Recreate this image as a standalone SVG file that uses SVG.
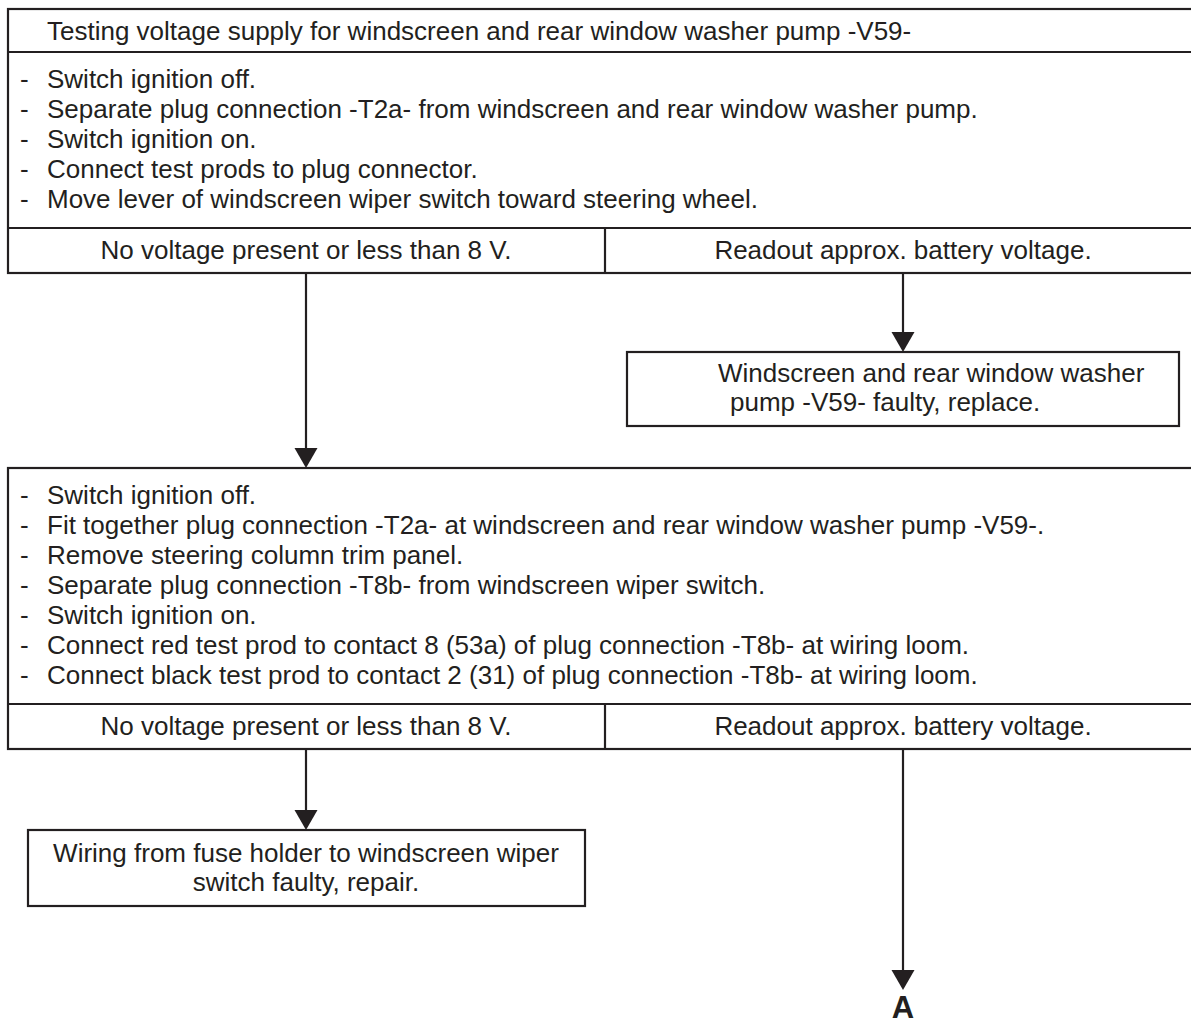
<svg xmlns="http://www.w3.org/2000/svg" width="1191" height="1027" viewBox="0 0 1191 1027">
<style>
.box{fill:#fff;stroke:#231f20;stroke-width:2.2}
.ln{stroke:#231f20;stroke-width:2.2;fill:none}
.ah{fill:#231f20}
.t{font-family:"Liberation Sans",Arial,Helvetica,sans-serif;font-size:26px;fill:#231f20}
.c{text-anchor:middle}
.a{font-family:"Liberation Sans",Arial,Helvetica,sans-serif;font-size:31px;font-weight:bold;fill:#231f20;text-anchor:middle}
</style>
<rect width="1191" height="1027" fill="#fff"/>
<g id="connectors">
<line class="ln" x1="306" y1="273" x2="306" y2="450"/>
<polygon class="ah" points="294.5,448 317.5,448 306,468"/>
<line class="ln" x1="903" y1="273" x2="903" y2="334"/>
<polygon class="ah" points="891.5,332 914.5,332 903,352"/>
<line class="ln" x1="306" y1="749" x2="306" y2="812"/>
<polygon class="ah" points="294.5,810 317.5,810 306,830"/>
<line class="ln" x1="903" y1="749" x2="903" y2="972"/>
<polygon class="ah" points="891.5,970 914.5,970 903,990"/>
</g>
<g id="box1">
<rect class="box" x="8" y="9" width="1200" height="264"/>
<line class="ln" x1="8" y1="52" x2="1191" y2="52"/>
<line class="ln" x1="8" y1="228" x2="1191" y2="228"/>
<line class="ln" x1="605" y1="228" x2="605" y2="273"/>
<text class="t" x="47" y="40">Testing voltage supply for windscreen and rear window washer pump -V59-</text>
<text class="t" x="20" y="88">-</text><text class="t" x="47" y="88">Switch ignition off.</text>
<text class="t" x="20" y="118">-</text><text class="t" x="47" y="118">Separate plug connection -T2a- from windscreen and rear window washer pump.</text>
<text class="t" x="20" y="148">-</text><text class="t" x="47" y="148">Switch ignition on.</text>
<text class="t" x="20" y="178">-</text><text class="t" x="47" y="178">Connect test prods to plug connector.</text>
<text class="t" x="20" y="208">-</text><text class="t" x="47" y="208">Move lever of windscreen wiper switch toward steering wheel.</text>
<text class="t c" x="306" y="259">No voltage present or less than 8 V.</text>
<text class="t c" x="903" y="259">Readout approx. battery voltage.</text>
</g>
<g id="washer-faulty">
<rect class="box" x="627" y="352" width="552" height="74"/>
<text class="t" x="718" y="382">Windscreen and rear window washer</text>
<text class="t" x="730" y="411">pump -V59- faulty, replace.</text>
</g>
<g id="box2">
<rect class="box" x="8" y="468" width="1200" height="281"/>
<line class="ln" x1="8" y1="704" x2="1191" y2="704"/>
<line class="ln" x1="605" y1="704" x2="605" y2="749"/>
<text class="t" x="20" y="504">-</text><text class="t" x="47" y="504">Switch ignition off.</text>
<text class="t" x="20" y="534">-</text><text class="t" x="47" y="534">Fit together plug connection -T2a- at windscreen and rear window washer pump -V59-.</text>
<text class="t" x="20" y="564">-</text><text class="t" x="47" y="564">Remove steering column trim panel.</text>
<text class="t" x="20" y="594">-</text><text class="t" x="47" y="594">Separate plug connection -T8b- from windscreen wiper switch.</text>
<text class="t" x="20" y="624">-</text><text class="t" x="47" y="624">Switch ignition on.</text>
<text class="t" x="20" y="654">-</text><text class="t" x="47" y="654">Connect red test prod to contact 8 (53a) of plug connection -T8b- at wiring loom.</text>
<text class="t" x="20" y="684">-</text><text class="t" x="47" y="684">Connect black test prod to contact 2 (31) of plug connection -T8b- at wiring loom.</text>
<text class="t c" x="306" y="735">No voltage present or less than 8 V.</text>
<text class="t c" x="903" y="735">Readout approx. battery voltage.</text>
</g>
<g id="wiring-faulty">
<rect class="box" x="28" y="830" width="557" height="76"/>
<text class="t c" x="306" y="862">Wiring from fuse holder to windscreen wiper</text>
<text class="t c" x="306" y="891">switch faulty, repair.</text>
</g>
<g id="A">
<text class="a" x="903" y="1018">A</text>
</g>
</svg>
